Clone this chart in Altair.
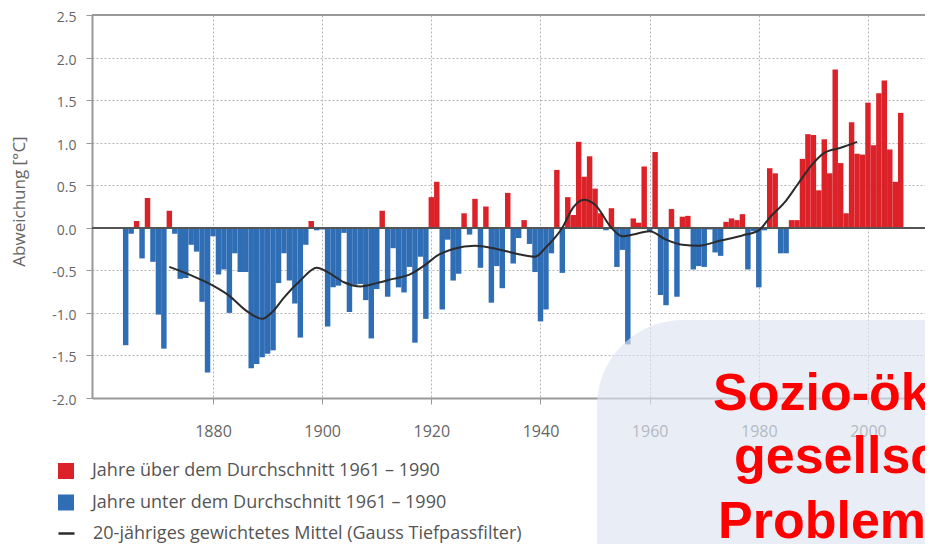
import altair as alt
import pandas as pd

# ---- data ----
years = list(range(1864, 2007))
anomaly = [
    -1.38, -0.07, 0.08, -0.36, 0.35, -0.40, -1.02, -1.42, 0.20, -0.07,   # 1864-1873
    -0.60, -0.59, -0.20, -0.28, -0.87, -1.70, -0.10, -0.55, -0.49, -1.00,  # 1874-1883
    -0.30, -0.52, -0.52, -1.65, -1.60, -1.52, -1.48, -1.44, -0.65, -0.30,  # 1884-1893
    -0.62, -0.89, -1.29, -0.20, 0.08, -0.03, -0.02, -1.16, -0.70, -0.68,   # 1894-1903
    -0.06, -0.99, -0.67, -0.66, -0.85, -1.30, -0.72, 0.20, -0.81, -0.24,   # 1904-1913
    -0.70, -0.76, -0.46, -1.35, -0.34, -1.07, 0.36, 0.54, -0.96, -0.14,    # 1914-1923
    -0.62, -0.54, 0.17, -0.08, 0.34, -0.47, 0.25, -0.88, -0.45, -0.71,     # 1924-1933
    0.41, -0.42, -0.12, 0.09, -0.19, -0.52, -1.10, -0.96, -0.30, 0.68,     # 1934-1943
    -0.53, 0.36, 0.15, 1.01, 0.60, 0.84, 0.46, 0.17, -0.03, 0.23,          # 1944-1953
    -0.46, -0.26, -1.37, 0.11, 0.06, 0.72, -0.04, 0.89, -0.79, -0.91,      # 1954-1963
    0.22, -0.81, 0.13, 0.14, -0.49, -0.45, -0.46, -0.02, -0.29, -0.33,     # 1964-1973
    0.07, 0.11, 0.09, 0.16, -0.49, -0.04, -0.70, -0.03, 0.70, 0.64,        # 1974-1983
    -0.30, -0.30, 0.09, 0.09, 0.81, 1.10, 1.09, 0.44, 1.04, 0.64,          # 1984-1993
    1.86, 0.76, 0.17, 1.24, 0.87, 0.86, 1.47, 0.97, 1.58, 1.73,            # 1994-2003
    0.92, 0.54, 1.35,                                                      # 2004-2006
]

smooth_years = [1872, 1876, 1880, 1883, 1886, 1889, 1891, 1893, 1896, 1899, 1901,
                1904, 1907, 1910, 1913, 1916, 1919, 1921, 1924, 1928, 1932, 1936,
                1939, 1941, 1944, 1946, 1948, 1950, 1953, 1955, 1957, 1960, 1963,
                1966, 1969, 1973, 1977, 1980, 1982, 1985, 1987, 1990, 1992, 1995, 1998]
smooth_vals = [-0.46, -0.56, -0.68, -0.80, -0.97, -1.07, -0.98, -0.82, -0.62, -0.47, -0.52,
               -0.64, -0.69, -0.65, -0.60, -0.55, -0.43, -0.33, -0.25, -0.21, -0.25, -0.31,
               -0.34, -0.23, 0.00, 0.24, 0.33, 0.27, 0.00, -0.10, -0.08, -0.04, -0.14,
               -0.20, -0.21, -0.15, -0.09, -0.03, 0.12, 0.32, 0.50, 0.76, 0.88, 0.94, 1.01]

cat_above = "Jahre über dem Durchschnitt 1961 – 1990"
cat_below = "Jahre unter dem Durchschnitt 1961 – 1990"
cat_mean = "20-jähriges gewichtetes Mittel (Gauss Tiefpassfilter)"
bar_categories = [cat_above, cat_below]
bar_colors = ["#dc2229", "#2f6db5"]
line_color = "#2b2b2b"

x_ticks = [1880, 1900, 1920, 1940, 1960, 1980, 2000]
y_ticks = [-2.0, -1.5, -1.0, -0.5, 0.0, 0.5, 1.0, 1.5, 2.0, 2.5]
y_title = "Abweichung [°C]"
bubble_lines = ["Sozio-ök", "gesellsc", "Problem"]

df = pd.DataFrame({"year": years, "value": anomaly})
df["cat"] = [cat_above if v >= 0 else cat_below for v in anomaly]
smooth_df = pd.DataFrame({"year": smooth_years, "value": smooth_vals})
smooth_df["cat"] = cat_mean

LABEL_FONT = "Open Sans"
GRAY = "#666666"

xscale = alt.Scale(domain=[1857.83, 2010.45], nice=False, zero=False)
yscale = alt.Scale(domain=[-2.0, 2.5], nice=False, zero=False)

xaxis = alt.Axis(values=x_ticks, format="d", grid=True, gridDash=[2, 2], gridColor="#b5b5b5",
                 gridWidth=1, tickSize=6, tickColor="#999999", domainColor="#999999",
                 domainWidth=2, labelPadding=19, labelFontSize=16, labelFont=LABEL_FONT,
                 labelColor=GRAY, title=None, labelFlush=False)
yaxis = alt.Axis(values=y_ticks,
                 labelExpr="replace(format(datum.value, '.1f'), '\u2212', '-')",
                 grid=True, gridDash=[2, 2], gridColor="#b5b5b5", gridWidth=1,
                 tickSize=6, tickColor="#999999", domainColor="#999999", domainWidth=2,
                 labelPadding=10, labelOffset=2.5, labelFontSize=14, labelFont=LABEL_FONT,
                 labelColor=GRAY,
                 title=y_title, titleX=-64, titleY=186, titleAngle=270, titleAlign="center",
                 titleBaseline="bottom", titleFont=LABEL_FONT, titleFontSize=17,
                 titleFontWeight="normal", titleColor=GRAY, labelFlush=False)

legend_common = dict(
    orient="none", title=None, direction="vertical", symbolSize=256,
    labelFontSize=18, labelFont=LABEL_FONT, labelColor="#555555", labelOffset=17,
    rowPadding=13.5, labelLimit=1000, padding=0, symbolOpacity=1, legendX=-35,
)
bar_legend = alt.Legend(legendY=447, symbolType="square", symbolStrokeWidth=0, **legend_common)
line_legend = alt.Legend(legendY=509, symbolType="stroke", symbolStrokeWidth=2.5, **legend_common)

bars = alt.Chart(df).transform_calculate(
    x0="datum.year - 0.5", x1="datum.year + 0.5"
).mark_bar(strokeWidth=0).encode(
    x=alt.X("x0:Q", scale=xscale, axis=xaxis),
    x2="x1:Q",
    y=alt.Y("value:Q", scale=yscale, axis=yaxis),
    y2=alt.datum(0),
    color=alt.Color("cat:N", scale=alt.Scale(domain=bar_categories, range=bar_colors),
                    legend=bar_legend),
)

zero_line = alt.Chart(df).mark_rule(color="#555555", strokeWidth=1.5).encode(y=alt.datum(0))
top_border = alt.Chart(df).mark_rule(color="#999999", strokeWidth=2).encode(y=alt.datum(2.5))

smooth = alt.Chart(smooth_df).mark_line(strokeWidth=2, interpolate="monotone").encode(
    x="year:Q", y="value:Q",
    stroke=alt.Stroke("cat:N", scale=alt.Scale(domain=[cat_mean], range=[line_color]),
                      legend=line_legend),
)

bubble = alt.Chart(pd.DataFrame({"a": [0]})).mark_rect(
    cornerRadius=86, fill="#dde5f1", opacity=0.65
).encode(x=alt.value(505), x2=alt.value(1000), y=alt.value(305), y2=alt.value(700))

text_layers = []
for txt, px, py in zip(bubble_lines, [621, 642, 626], [395, 458, 523]):
    text_layers.append(
        alt.Chart(pd.DataFrame({"a": [0]})).mark_text(
            align="left", baseline="alphabetic", font="Liberation Sans", fontWeight="bold",
            fontSize=52, color="#ff0000"
        ).encode(x=alt.value(px), y=alt.value(py), text=alt.value(txt))
    )

chart = alt.layer(bars, zero_line, top_border, smooth, bubble, *text_layers).properties(
    width=833, height=383, autosize="none",
    padding={"left": 84, "top": 7, "right": 0, "bottom": 146},
).configure_view(stroke=None).configure(background="white")

chart.save("out.html", embed_options={"renderer": "svg", "actions": False})
